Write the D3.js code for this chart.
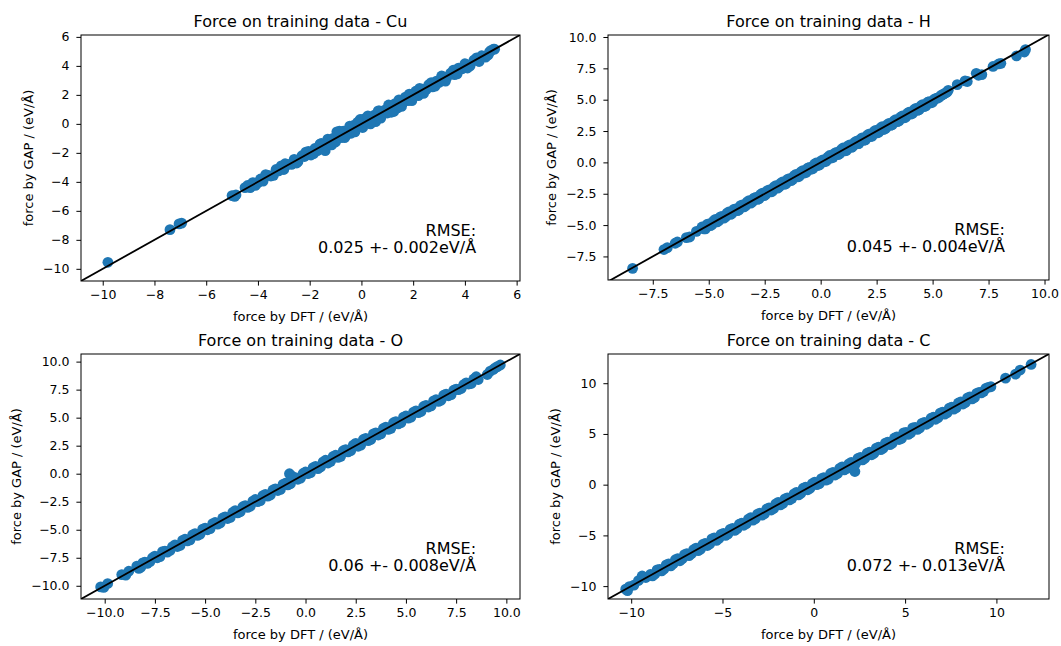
<!DOCTYPE html>
<html>
<head>
<meta charset="utf-8">
<script src="https://cdn.jsdelivr.net/npm/d3@7"></script>
<style>
  body { margin: 0; background: #fff; }
  svg { display: block; font-family: "DejaVu Sans", sans-serif; }
</style>
</head>
<body>
<svg id="chart" width="1061" height="646"></svg>
<script>
// --- Data: [force by DFT, force by GAP] ---
const cuPoints = [
  [-9.8,-9.55],[-7.4,-7.3],[-7.05,-6.9],[-6.95,-6.85],[-5.0,-4.95],[-4.9,-5.0],[-4.85,-4.9],
  [-4.5,-4.4],[-4.3,-4.4],[-4.2,-4.05],[-4.0,-4.05],[-3.9,-3.8],[-3.8,-3.95],[-3.6,-3.55],[-3.5,-3.6],
  [-3.3,-3.15],[-3.2,-3.25],[-3.1,-2.9],[-3.0,-3.15],[-2.85,-2.8],[-2.7,-2.8],[-2.6,-2.45],[-2.45,-2.6],
  [-2.3,-2.2],[-2.2,-2.25],[-2.05,-1.9],[-1.95,-2.15],[-1.8,-1.7],[-1.7,-1.85],[-1.55,-1.35],[-1.45,-1.55],
  [-1.4,-1.85],[-1.3,-1.05],[-1.2,-1.4],[-1.1,-1.0],[-1.0,-1.25],[-0.95,-0.55],[-0.9,-0.6],[-0.8,-0.95],
  [-0.7,-0.5],[-0.6,-0.8],[-0.5,-0.4],[-0.4,-0.65],[-0.3,-0.1],[-0.2,-0.3],[-0.1,0.05],[-0.05,0.3],
  [0.0,-0.2],[0.1,0.35],[0.2,0.1],[0.3,0.45],[0.4,0.15],[0.5,0.6],[0.55,0.15],[0.6,0.4],[0.7,0.9],
  [0.8,0.65],[0.9,0.95],[1.0,0.75],[1.1,1.25],[1.2,1.0],[1.25,0.85],[1.3,1.4],[1.4,1.1],[1.5,1.55],
  [1.6,1.45],[1.7,1.85],[1.8,1.6],[1.9,2.0],[2.0,1.9],[2.1,2.25],[2.2,1.95],[2.35,2.4],[2.5,2.35],
  [2.6,2.7],[2.75,2.55],[2.9,2.95],[3.0,2.85],[3.15,3.25],[3.3,3.2],[3.45,3.5],[3.6,3.4],[3.75,3.85],
  [3.9,3.8],[4.05,4.1],[4.2,4.0],[4.35,4.4],[4.5,4.35],[4.65,4.7],[4.8,4.6],[4.95,4.95],[5.1,5.15],[5.15,5.15],
  [-4.4,-4.25],[-4.1,-4.25],[-3.7,-3.5],[-3.4,-3.55],[-2.95,-2.75],[-2.5,-2.7],[-2.15,-1.95],[-1.85,-2.05],
  [-1.6,-1.4],[-1.15,-1.45],[-0.85,-0.5],[-0.65,-0.95],[-0.45,-0.15],[-0.25,-0.55],[-0.15,0.1],[0.05,-0.25],
  [0.25,0.55],[0.35,0.0],[0.65,0.9],[0.75,0.4],[1.05,1.3],[1.15,0.8],[1.45,1.65],[1.55,1.2],[1.85,2.05],
  [1.95,1.6],[2.25,2.45],[2.4,2.1],[2.7,2.85],[2.85,2.6],[3.1,3.3],[3.25,2.95],[3.55,3.7],[3.7,3.45],
  [4.0,4.15],[4.1,3.85],[4.45,4.55],[4.55,4.3],[4.9,4.75],[5.0,5.05]
];
const hPoints = [
  [-8.4,-8.45],[-7.0,-6.95],[-6.85,-6.8],[-6.5,-6.45],[-6.4,-6.35],[-6.0,-6.0],[-5.85,-5.95],[-5.55,-5.5],
  [-5.3,-5.15],[-5.15,-5.3],[-5.0,-4.9],[-4.85,-4.95],[-4.7,-4.55],[-4.55,-4.65],[-4.4,-4.3],[-4.25,-4.35],
  [-4.1,-3.95],[-3.95,-4.05],[-3.8,-3.7],[-3.65,-3.8],[-3.5,-3.4],[-3.35,-3.45],[-3.2,-3.05],[-3.05,-3.15],
  [-2.9,-2.8],[-2.75,-2.9],[-2.6,-2.45],[-2.45,-2.55],[-2.3,-2.2],[-2.15,-2.3],[-2.0,-1.85],[-1.85,-1.95],
  [-1.7,-1.55],[-1.55,-1.7],[-1.4,-1.3],[-1.25,-1.35],[-1.1,-0.95],[-0.95,-1.1],[-0.8,-0.65],[-0.65,-0.8],
  [-0.5,-0.4],[-0.35,-0.5],[-0.2,-0.05],[-0.05,-0.2],[0.1,0.2],[0.25,0.1],[0.4,0.55],[0.55,0.4],
  [0.7,0.8],[0.85,0.7],[1.0,1.15],[1.15,0.95],[1.3,1.4],[1.45,1.3],[1.6,1.7],[1.7,1.5],[1.85,1.95],
  [2.0,1.8],[2.15,2.25],[2.3,2.1],[2.45,2.55],[2.6,2.4],[2.75,2.85],[2.9,2.7],[3.05,3.1],[3.2,3.0],
  [3.35,3.4],[3.5,3.3],[3.65,3.7],[3.8,3.6],[3.95,4.0],[4.1,3.9],[4.25,4.3],[4.4,4.2],[4.55,4.6],
  [4.7,4.5],[4.85,4.85],[5.0,4.8],[5.15,5.1],[5.3,5.2],[5.45,5.4],[5.6,5.55],[5.7,5.75],
  [6.1,6.2],[6.45,6.5],[6.55,6.45],[6.95,7.1],[7.05,6.95],[7.2,7.0],[7.7,7.65],[7.95,7.85],[8.05,7.9],
  [8.75,8.5],[9.1,8.8],[9.15,9.0],
  [-5.22,-5.3],[-5.08,-4.95],[-4.92,-5.05],[-4.78,-4.65],[-4.62,-4.75],[-4.48,-4.35],[-4.32,-4.45],
  [-4.18,-4.05],[-4.02,-4.15],[-3.88,-3.75],[-3.72,-3.85],[-3.58,-3.45],[-3.42,-3.55],[-3.28,-3.15],
  [-3.12,-3.25],[-2.98,-2.85],[-2.82,-2.95],[-2.68,-2.55],[-2.52,-2.65],[-2.38,-2.25],[-2.22,-2.35],
  [-2.08,-1.95],[-1.92,-2.05],[-1.78,-1.65],[-1.62,-1.75],[-1.48,-1.35],[-1.32,-1.45],[-1.18,-1.05],
  [-1.02,-1.15],[-0.88,-0.75],[-0.72,-0.85],[-0.58,-0.45],[-0.42,-0.55],[-0.28,-0.15],[-0.12,-0.25],
  [0.02,0.12],[0.18,0.05],[0.32,0.42],[0.48,0.35],[0.62,0.72],[0.78,0.62],[0.92,1.02],[1.08,0.92],
  [1.22,1.32],[1.38,1.2],[1.52,1.6],[1.68,1.52],[1.78,1.85],[1.92,1.75],[2.08,2.15],[2.22,2.05],
  [2.38,2.45],[2.52,2.35],[2.68,2.75],[2.82,2.62],[2.98,3.02],[3.12,2.95],[3.28,3.32],[3.42,3.25],
  [3.58,3.62],[3.72,3.55],[3.88,3.92],[4.02,3.85],[4.18,4.22],[4.32,4.15],[4.48,4.52],[4.62,4.45],
  [4.78,4.8],[4.92,4.75],[5.08,5.05],[5.22,5.12],[5.38,5.35],[5.52,5.48],[5.65,5.62]
];
const oPoints = [
  [-10.2,-10.1],[-10.05,-10.15],[-9.85,-9.8],[-9.15,-9.0],[-8.95,-9.05],[-8.8,-8.7],
  [-8.4,-8.25],[-8.2,-8.35],[-8.0,-7.9],[-7.75,-7.85],[-7.5,-7.35],[-7.25,-7.4],[-7.0,-6.9],[-6.75,-6.85],
  [-6.5,-6.35],[-6.25,-6.4],[-6.0,-5.85],[-5.75,-5.9],[-5.5,-5.35],[-5.25,-5.4],[-5.0,-4.85],[-4.75,-4.9],
  [-4.5,-4.35],[-4.25,-4.4],[-4.0,-3.85],[-3.75,-3.9],[-3.5,-3.3],[-3.25,-3.4],[-3.0,-2.85],[-2.75,-2.9],
  [-2.5,-2.3],[-2.25,-2.4],[-2.0,-1.85],[-1.75,-1.9],[-1.5,-1.35],[-1.25,-1.4],[-1.0,-0.85],[-0.8,0.0],
  [-0.7,-0.2],[-0.75,-0.9],[-0.5,-0.35],[-0.25,-0.4],[0.0,0.15],[0.25,0.1],[0.5,0.65],[0.75,0.6],
  [1.0,1.2],[1.25,1.1],[1.5,1.65],[1.75,1.55],[2.0,2.15],[2.25,2.05],[2.5,2.7],[2.75,2.55],[3.0,3.15],
  [3.25,3.05],[3.5,3.65],[3.75,3.55],[4.0,4.15],[4.25,4.05],[4.5,4.65],[4.75,4.55],[5.0,5.15],[5.25,5.05],
  [5.5,5.6],[5.75,5.55],[6.0,6.1],[6.25,6.05],[6.5,6.6],[6.75,6.55],[7.0,7.1],[7.25,7.05],[7.5,7.55],
  [7.75,7.6],[8.0,8.1],[8.25,8.05],[8.5,8.65],[8.6,8.4],[9.05,8.85],[9.35,9.3],[9.55,9.55],[9.7,9.7],
  [-8.3,-8.45],[-8.1,-7.95],[-7.88,-8.0],[-7.62,-7.5],[-7.38,-7.5],[-7.12,-6.95],[-6.88,-7.0],[-6.62,-6.5],
  [-6.38,-6.5],[-6.12,-5.95],[-5.88,-6.0],[-5.62,-5.45],[-5.38,-5.5],[-5.12,-4.95],[-4.88,-5.0],[-4.62,-4.45],
  [-4.38,-4.5],[-4.12,-3.95],[-3.88,-4.0],[-3.62,-3.45],[-3.38,-3.5],[-3.12,-2.95],[-2.88,-3.0],[-2.62,-2.45],
  [-2.38,-2.5],[-2.12,-1.95],[-1.88,-2.0],[-1.62,-1.45],[-1.38,-1.5],[-1.12,-0.95],[-0.88,-1.0],[-0.6,-0.4],
  [-0.38,-0.5],[-0.12,0.02],[0.12,0.0],[0.38,0.55],[0.62,0.45],[0.88,1.05],[1.12,0.95],[1.38,1.55],
  [1.62,1.45],[1.88,2.05],[2.12,1.95],[2.38,2.55],[2.62,2.45],[2.88,3.05],[3.12,2.95],[3.38,3.55],
  [3.62,3.45],[3.88,4.05],[4.12,3.95],[4.38,4.55],[4.62,4.45],[4.88,5.05],[5.12,4.95],[5.38,5.5],
  [5.62,5.45],[5.88,6.0],[6.12,5.95],[6.38,6.5],[6.62,6.45],[6.88,7.0],[7.12,6.95],[7.38,7.45],
  [7.62,7.5],[7.88,7.95],[8.12,8.0],[8.38,8.45],[9.2,9.15],[9.45,9.45]
];
const cPoints = [
  [-10.3,-10.3],[-10.1,-10.05],[-9.85,-9.9],[-9.6,-9.45],[-9.4,-9.0],[-9.2,-9.15],[-8.95,-8.85],[-8.7,-8.8],
  [-8.45,-8.35],[-8.2,-8.3],[-7.95,-7.8],[-7.7,-7.8],[-7.45,-7.3],[-7.2,-7.3],[-6.95,-6.8],[-6.7,-6.8],
  [-6.45,-6.25],[-6.2,-6.35],[-5.95,-5.8],[-5.7,-5.85],[-5.45,-5.25],[-5.2,-5.3],[-4.95,-4.8],[-4.7,-4.85],
  [-4.45,-4.3],[-4.2,-4.35],[-3.95,-3.8],[-3.7,-3.85],[-3.45,-3.25],[-3.2,-3.35],[-2.95,-2.8],[-2.7,-2.85],
  [-2.45,-2.3],[-2.2,-2.35],[-1.95,-1.75],[-1.7,-1.85],[-1.45,-1.3],[-1.2,-1.35],[-0.95,-0.75],[-0.7,-0.85],
  [-0.45,-0.25],[-0.2,-0.35],[0.05,0.25],[0.3,0.1],[0.55,0.7],[0.8,0.55],[1.05,1.2],[1.3,1.1],[1.55,1.75],
  [1.8,1.6],[2.05,2.2],[2.25,1.3],[2.3,2.1],[2.55,2.7],[2.8,2.6],[3.05,3.2],[3.3,3.1],[3.55,3.7],[3.8,3.6],
  [4.05,4.2],[4.3,4.1],[4.55,4.7],[4.8,4.55],[5.05,5.15],[5.3,5.1],[5.55,5.65],[5.8,5.6],[6.05,6.15],
  [6.3,6.1],[6.55,6.65],[6.8,6.6],[7.05,7.15],[7.3,7.1],[7.55,7.65],[7.8,7.6],[8.05,8.15],[8.3,8.1],
  [8.55,8.65],[8.8,8.6],[9.05,9.1],[9.3,9.2],[9.55,9.6],[9.7,9.65],[10.5,10.5],[11.05,10.9],[11.3,11.3],
  [11.9,11.85],
  [-10.2,-10.45],[-8.83,-9.0],[-8.58,-8.4],[-8.33,-8.5],[-8.08,-7.9],[-7.83,-8.0],[-7.58,-7.4],[-7.33,-7.5],
  [-7.08,-6.9],[-6.83,-7.0],[-6.58,-6.4],[-6.33,-6.5],[-6.08,-5.9],[-5.83,-6.0],[-5.58,-5.35],[-5.33,-5.5],
  [-5.08,-4.9],[-4.83,-5.0],[-4.58,-4.4],[-4.33,-4.5],[-4.08,-3.9],[-3.83,-4.0],[-3.58,-3.4],[-3.33,-3.5],
  [-3.08,-2.9],[-2.83,-3.0],[-2.58,-2.4],[-2.33,-2.5],[-2.08,-1.9],[-1.83,-2.0],[-1.58,-1.4],[-1.33,-1.5],
  [-1.08,-0.9],[-0.83,-1.0],[-0.58,-0.35],[-0.33,-0.5],[-0.08,0.1],[0.17,0.0],[0.42,0.6],[0.67,0.45],
  [0.92,1.1],[1.17,0.95],[1.42,1.6],[1.67,1.45],[1.92,2.05],[2.17,1.95],[2.42,2.6],[2.67,2.45],[2.92,3.1],
  [3.17,2.95],[3.42,3.6],[3.67,3.45],[3.92,4.1],[4.17,3.95],[4.42,4.6],[4.67,4.45],[4.92,5.1],[5.17,4.95],
  [5.42,5.6],[5.67,5.45],[5.92,6.05],[6.17,5.95],[6.42,6.55],[6.67,6.45],[6.92,7.05],[7.17,6.95],[7.42,7.55],
  [7.67,7.45],[7.92,8.05],[8.17,7.95],[8.42,8.55],[8.67,8.45],[8.92,9.0],[9.17,9.05],[9.42,9.5]
];

// axis limits and tick values
const cuXLimits = [-10.84, 6.13], cuYLimits = [-10.84, 6.13];
const hXLimits = [-9.5, 10.2],    hYLimits = [-9.38, 10.16];
const oXLimits = [-11.18, 10.68], oYLimits = [-11.18, 10.68];
const cXLimits = [-11.27, 12.88], cYLimits = [-11.27, 12.88];
const cuTicks = [-10, -8, -6, -4, -2, 0, 2, 4, 6];
const hTicks = [-7.5, -5, -2.5, 0, 2.5, 5, 7.5, 10];
const oTicks = [-10, -7.5, -5, -2.5, 0, 2.5, 5, 7.5, 10];
const cTicks = [-10, -5, 0, 5, 10];

const elements = ['Cu', 'H', 'O', 'C'];
const rmseLabels = ['0.025 +- 0.002eV/Å', '0.045 +- 0.004eV/Å', '0.06 +- 0.008eV/Å', '0.072 +- 0.013eV/Å'];

// --- Layout ---
const panels = [
  { el: elements[0], points: cuPoints, xLim: cuXLimits, yLim: cuYLimits, ticks: cuTicks, fmt: d3.format('d'),   rmse: rmseLabels[0], left: 81,  right: 520,  top: 35,  bottom: 281 },
  { el: elements[1], points: hPoints,  xLim: hXLimits,  yLim: hYLimits,  ticks: hTicks,  fmt: d3.format('.1f'), rmse: rmseLabels[1], left: 608, right: 1049, top: 35,  bottom: 280 },
  { el: elements[2], points: oPoints,  xLim: oXLimits,  yLim: oYLimits,  ticks: oTicks,  fmt: d3.format('.1f'), rmse: rmseLabels[2], left: 81,  right: 520,  top: 354, bottom: 599 },
  { el: elements[3], points: cPoints,  xLim: cXLimits,  yLim: cYLimits,  ticks: cTicks,  fmt: d3.format('d'),   rmse: rmseLabels[3], left: 608, right: 1049, top: 354, bottom: 599 }
];

const svg = d3.select('#chart');
const BLUE = '#1f77b4';

panels.forEach((p, i) => drawPanel(p, i));

function drawPanel(p, i) {
  const g = svg.append('g');
  const x = d3.scaleLinear().domain(p.xLim).range([p.left, p.right]);
  const y = d3.scaleLinear().domain(p.yLim).range([p.bottom, p.top]);

  // clip to the axes box
  g.append('clipPath').attr('id', 'clip' + i)
    .append('rect')
    .attr('x', p.left).attr('y', p.top)
    .attr('width', p.right - p.left).attr('height', p.bottom - p.top);

  const plot = g.append('g').attr('clip-path', `url(#clip${i})`);

  plot.selectAll('circle')
    .data(p.points)
    .join('circle')
    .attr('cx', d => x(d[0]))
    .attr('cy', d => y(d[1]))
    .attr('r', 5.4)
    .attr('fill', BLUE);

  // y = x reference line
  const lo = Math.min(p.xLim[0], p.yLim[0]);
  const hi = Math.max(p.xLim[1], p.yLim[1]);
  plot.append('line')
    .attr('x1', x(lo)).attr('y1', y(lo))
    .attr('x2', x(hi)).attr('y2', y(hi))
    .attr('stroke', '#000')
    .attr('stroke-width', 1.8);

  // axes
  const xAxis = g.append('g')
    .attr('transform', `translate(0,${p.bottom})`)
    .call(d3.axisBottom(x).tickValues(p.ticks).tickFormat(p.fmt).tickSize(4.6).tickPadding(5).tickSizeOuter(0));
  const yAxis = g.append('g')
    .attr('transform', `translate(${p.left},0)`)
    .call(d3.axisLeft(y).tickValues(p.ticks).tickFormat(p.fmt).tickSize(4.6).tickPadding(6.9).tickSizeOuter(0));

  [xAxis, yAxis].forEach(a => {
    a.select('.domain').remove();
    a.selectAll('.tick line').attr('stroke', '#000').attr('stroke-width', 1);
    a.selectAll('.tick text')
      .attr('fill', '#000')
      .style('font-family', '"DejaVu Sans", sans-serif')
      .style('font-size', '12.5px');
  });

  // frame
  g.append('rect')
    .attr('x', p.left).attr('y', p.top)
    .attr('width', p.right - p.left).attr('height', p.bottom - p.top)
    .attr('fill', 'none')
    .attr('stroke', '#000')
    .attr('stroke-width', 1);

  const cx = (p.left + p.right) / 2;
  const cy = (p.top + p.bottom) / 2;

  // title
  g.append('text')
    .attr('x', cx).attr('y', p.top - 8)
    .attr('text-anchor', 'middle')
    .style('font-size', '16px')
    .text('Force on training data - ' + p.el);

  // x label
  g.append('text')
    .attr('x', cx).attr('y', p.bottom + 39.5)
    .attr('text-anchor', 'middle')
    .style('font-size', '13px')
    .text('force by DFT / (eV/Å)');

  // y label, placed left of the widest tick label
  const tickLeft = d3.min(yAxis.selectAll('.tick text').nodes(), n => {
    const b = n.getBBox();
    return p.left - 4.6 - 6.9 - b.width;
  });
  g.append('text')
    .attr('transform', `translate(${tickLeft - 15},${cy}) rotate(-90)`)
    .attr('text-anchor', 'middle')
    .attr('dominant-baseline', 'central')
    .style('font-size', '13px')
    .text('force by GAP / (eV/Å)');

  // RMSE annotation
  const tx = p.left + 0.9 * (p.right - p.left);
  const note = g.append('text')
    .attr('text-anchor', 'end')
    .style('font-size', '16px');
  note.append('tspan').attr('x', tx).attr('y', p.bottom - 45.5).text('RMSE:');
  note.append('tspan').attr('x', tx).attr('y', p.bottom - 28).text(p.rmse);
}
</script>
</body>
</html>
